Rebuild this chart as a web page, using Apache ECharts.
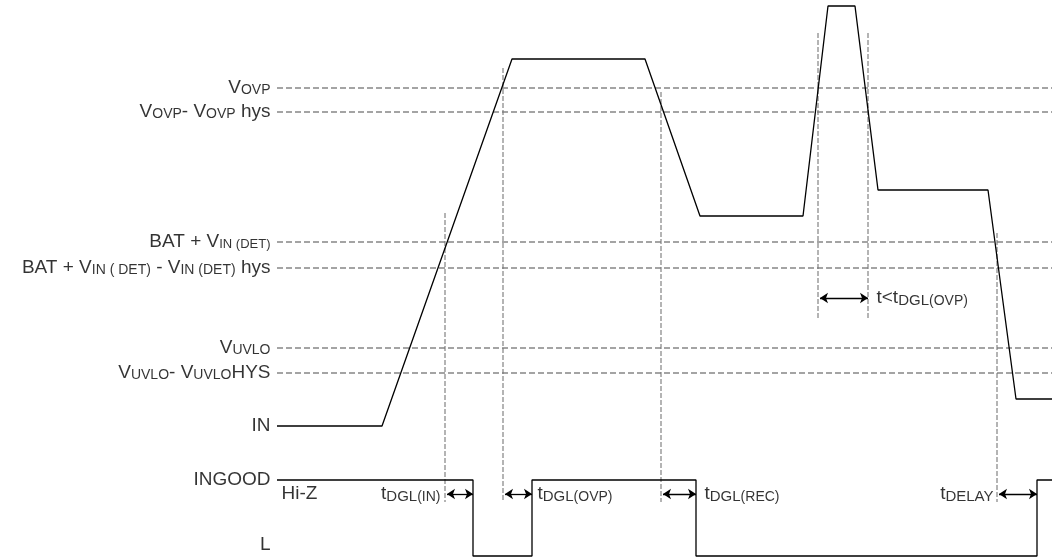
<!DOCTYPE html>
<html>
<head>
<meta charset="utf-8">
<script src="https://cdn.jsdelivr.net/npm/echarts@6/dist/echarts.min.js"></script>
<style>
  html, body { margin: 0; padding: 0; background: #fff; }
  #chart { width: 1052px; height: 558px; }
</style>
</head>
<body>
<div id="chart"></div>
<script>
// IN waveform (time, level) - level axis grows downward like the sketch
const inTime = [277, 382, 512, 645, 700, 803, 828, 855, 878, 988, 1016, 1052];
const inLevel = [426, 426, 59, 59, 216, 216, 6, 6, 190, 190, 399, 399];

// INGOOD waveform (Hi-Z / L)
const goodTime = [277, 473, 473, 532, 532, 696, 696, 1037, 1037, 1052];
const goodLevel = [480, 480, 556, 556, 480, 480, 556, 556, 480, 480];

// threshold levels
const thresholdNames = [
  "V{s|OVP}",
  "V{s|OVP}- V{s|OVP} hys",
  "BAT + V{ss|IN (DET)}",
  "BAT + V{s|IN ( DET)} - V{s|IN (DET)} hys",
  "V{s|UVLO}",
  "V{s|UVLO}- V{s|UVLO}HYS"
];
const thresholdLevels = [88, 112, 242, 268, 348, 373];

// vertical timing markers: time, top, bottom
const markerTime = [445, 503, 661, 818, 868, 997];
const markerTop = [213, 68, 92, 33, 33, 233];
const markerBottom = [502, 502, 502, 320, 320, 502];

// delay arrows
const arrowStart = [447, 505, 663, 820, 999];
const arrowEnd = [473, 532, 696, 868, 1037];
const arrowLevel = [494, 494, 494, 298, 494];

// free text labels
const textItems = ["IN", "INGOOD", "L", "Hi-Z", "t{t|DGL}{p|(IN)}", "t{t|DGL}{p|(OVP)}", "t{t|DGL}{p|(REC)}", "t{t|DELAY}", "t<t{t|DGL}{p|(OVP)}"];
const textTime = [271, 271, 271, 281, 441, 537, 704, 994, 876];
const textLevel = [426, 480, 545, 494, 494, 494, 494, 494, 298];
const textSide = ["left", "left", "left", "right", "left", "right", "right", "left", "right"];

const font = "Liberation Sans";
const rich = {
  s: { fontSize: 14, fontFamily: font, color: "#000", padding: [5, 0, 0, 0] },
  ss: { fontSize: 13, fontFamily: font, color: "#000", padding: [5, 0, 0, 0] },
  t: { fontSize: 15, fontFamily: font, color: "#000", padding: [6, 0, 0, 0] },
  p: { fontSize: 14, fontFamily: font, color: "#000", padding: [6, 0, 0, 0] }
};

const chart = echarts.init(document.getElementById("chart"));

const series = [];

thresholdLevels.forEach((lv) => {
  series.push({
    type: "line",
    symbol: "none",
    silent: true,
    lineStyle: { color: "#4a4a4a", width: 1.1, type: [6, 3] },
    data: [[277, lv], [1052, lv]]
  });
});

markerTime.forEach((t, i) => {
  series.push({
    type: "line",
    symbol: "none",
    silent: true,
    lineStyle: { color: "#777", width: 1.1, type: [5, 2] },
    data: [[t, markerTop[i]], [t, markerBottom[i]]]
  });
});

series.push({
  type: "line",
  symbol: "none",
  lineStyle: { color: "#000", width: 1.3 },
  data: inTime.map((t, i) => [t, inLevel[i]])
});

series.push({
  type: "line",
  symbol: "none",
  lineStyle: { color: "#000", width: 1.3 },
  data: goodTime.map((t, i) => [t, goodLevel[i]])
});

series.push({
  type: "lines",
  coordinateSystem: "cartesian2d",
  symbol: ["arrow", "arrow"],
  symbolSize: 8,
  lineStyle: { color: "#000", width: 1.3, opacity: 1 },
  data: arrowStart.map((s, i) => ({ coords: [[s, arrowLevel[i]], [arrowEnd[i], arrowLevel[i]]] }))
});

const labelData = [];
thresholdNames.forEach((name, i) => {
  labelData.push({
    value: [277, thresholdLevels[i]],
    label: { position: "left", distance: 6, formatter: name }
  });
});
textItems.forEach((txt, i) => {
  labelData.push({
    value: [textTime[i], textLevel[i]],
    label: { position: textSide[i], distance: 0, formatter: txt }
  });
});

series.push({
  type: "scatter",
  symbolSize: 1,
  silent: true,
  itemStyle: { color: "rgba(0,0,0,0)" },
  label: { show: true, color: "#000", fontFamily: font, fontSize: 19, rich: rich },
  data: labelData
});

chart.setOption({
  animation: false,
  backgroundColor: "#fff",
  grid: { left: 0, right: 0, top: 0, bottom: 0 },
  xAxis: { type: "value", min: 0, max: 1052, show: false },
  yAxis: { type: "value", min: 0, max: 558, inverse: true, show: false },
  series: series
});
</script>
</body>
</html>
